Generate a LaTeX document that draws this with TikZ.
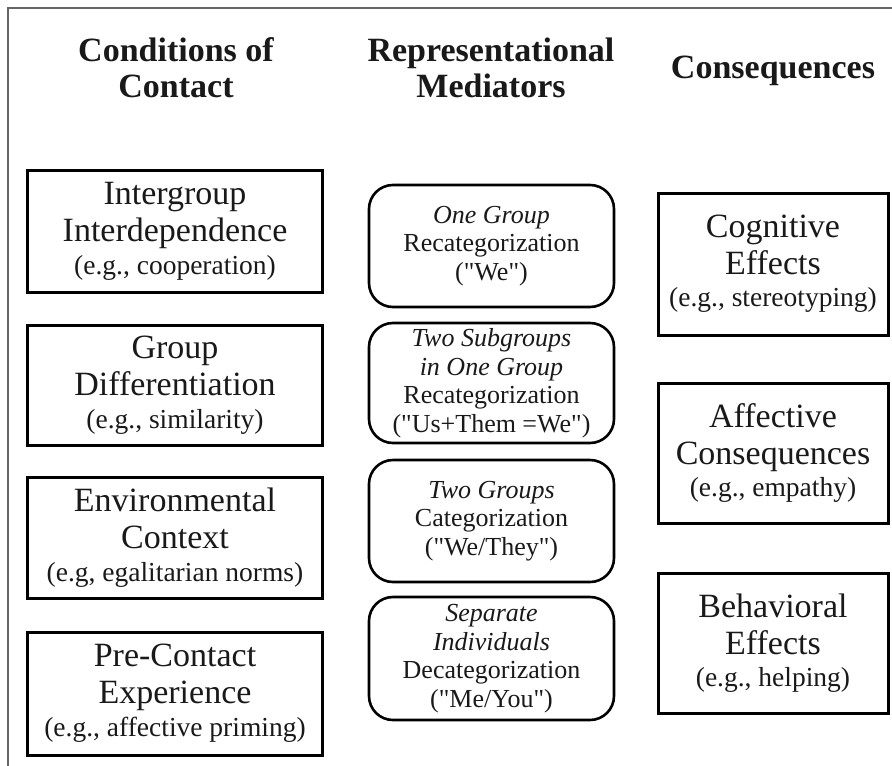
\documentclass[tikz,border=0pt]{standalone}
\usepackage{fontspec}
\setmainfont{Liberation Serif}[Ligatures=TeXOff]
\newcommand\egsize{\fontsize{27.5}{30}\selectfont}
\begin{document}
\begin{tikzpicture}[x=1pt,y=-1pt,
  frame/.style={draw=black!60, line width=2pt},
  cbox/.style={draw, line width=3pt, inner sep=0pt, align=center, text=black!90,
               font=\fontsize{34}{37}\selectfont},
  lbox/.style={cbox, minimum width=295pt},
  rbox/.style={cbox, minimum width=230pt, minimum height=140pt},
  mbox/.style={draw, line width=2.6pt, rounded corners=24pt, inner sep=0pt, align=center,
               minimum width=245pt, text=black!90, font=\fontsize{26}{28.5}\selectfont},
  head/.style={align=center, text=black!90, font=\fontsize{34}{36}\selectfont\bfseries}]
\useasboundingbox (0,0) rectangle (892,766);
\draw[frame] (8,766) -- (8,8) -- (892,8);

% headings
\node[head] (h1) at (176,67.5) {Conditions of\\Contact};
\node[head] (h2) at (491,67.5) {Representational\\Mediators};
\node[head] (h3) at (773,71) {Consequences};

% conditions of contact
\node[lbox, minimum height=122pt] (c1) at (175,231)
  {Intergroup\\Interdependence\\[-4pt]{\egsize (e.g., cooperation)}};
\node[lbox, minimum height=120pt] (c2) at (175,385)
  {Group\\Differentiation\\[-4pt]{\egsize (e.g., similarity)}};
\node[lbox, minimum height=121pt] (c3) at (175,537.5)
  {Environmental\\Context\\[-4pt]{\egsize (e.g, egalitarian norms)}};
\node[lbox, minimum height=123pt] (c4) at (175,693.5)
  {Pre-Contact\\Experience\\[-4pt]{\egsize (e.g., affective priming)}};

% representational mediators
\node[mbox, minimum height=122pt] (m1) at (491.5,246)
  {{\itshape One Group}\\Recategorization\\("We")};
\node[mbox, minimum height=120pt] (m2) at (491.5,383)
  {{\itshape Two Subgroups}\\{\itshape in One Group}\\Recategorization\\("Us+Them =We")};
\node[mbox, minimum height=122pt] (m3) at (491.5,521)
  {{\itshape Two Groups}\\Categorization\\("We/They")};
\node[mbox, minimum height=123pt] (m4) at (491.5,658.5)
  {{\itshape Separate}\\{\itshape Individuals}\\Decategorization\\("Me/You")};

% consequences
\node[rbox, minimum height=142pt] (r1) at (773,264)
  {Cognitive\\Effects\\[-5pt]{\egsize (e.g., stereotyping)}};
\node[rbox] (r2) at (773,453)
  {Affective\\Consequences\\[-5pt]{\egsize (e.g., empathy)}};
\node[rbox] (r3) at (773,643)
  {Behavioral\\Effects\\[-5pt]{\egsize (e.g., helping)}};
\end{tikzpicture}
\end{document}
